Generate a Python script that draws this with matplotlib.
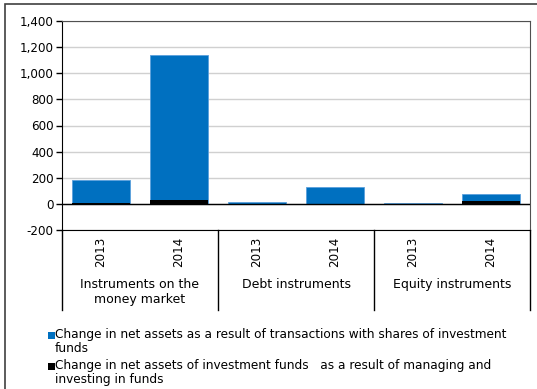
import matplotlib.pyplot as plt
from matplotlib.patches import Rectangle
import numpy as np

# Data
groups = ["Instruments on the\nmoney market", "Debt instruments", "Equity instruments"]
years = ["2013", "2014"]
transactions = [185, 1141, 15, 133, 5, 75]
managing = [10, 28, 2, 2, 1, 22]
series_labels = [
    "Change in net assets as a result of transactions with shares of investment\nfunds",
    "Change in net assets of investment funds   as a result of managing and\ninvesting in funds",
]
colors = ["#0070C0", "#000000"]

W, H = 537, 389
fig = plt.figure(figsize=(W / 100, H / 100), dpi=100)
fs = 8.6

# outer frame
fig.patches.append(Rectangle((5 / W, -0.1), 1.2, (389 - 4) / H + 0.1, transform=fig.transFigure,
                             fill=False, edgecolor="#404040", linewidth=1.2))

ax = fig.add_axes([62 / W, (H - 230) / H, (530 - 62) / W, (230 - 21) / H])
x = np.arange(len(transactions))
ax.bar(x, transactions, width=0.74, color=colors[0], edgecolor="#5aa0dc", linewidth=0.6, zorder=2)
ax.bar(x, managing, width=0.74, color=colors[1], zorder=3)

ax.set_xlim(-0.5, len(transactions) - 0.5)
ax.set_ylim(-200, 1400)
ax.set_yticks(np.arange(-200, 1401, 200))
ax.set_yticklabels([f"{v:,}" for v in range(-200, 1401, 200)], fontsize=fs)
ax.yaxis.grid(True, color="#d0d0d0", linewidth=1)
ax.set_axisbelow(True)
ax.axhline(0, color="black", linewidth=1, zorder=4)
ax.tick_params(axis="y", length=4, width=1, pad=2)
ax.set_xticks([])
for side in ["top", "right"]:
    ax.spines[side].set_color("#505050")
ax.spines["left"].set_color("black")
ax.spines["bottom"].set_color("black")

# category axis below the plot
trans = ax.get_xaxis_transform()
depth = (310 - 230) / (230 - 21)
for b in [-0.5, 1.5, 3.5, 5.5]:
    ax.plot([b, b], [0, -depth], color="black", linewidth=1, transform=trans, clip_on=False)
for i, xi in enumerate(x):
    ax.text(xi, -(237 - 230) / 209, years[i % 2], rotation=90, ha="center", va="top",
            fontsize=fs, transform=trans)
for g, name in enumerate(groups):
    ax.text(2 * g + 0.5, -(278 - 230) / 209, name, ha="center", va="top",
            fontsize=fs + 0.4, transform=trans, linespacing=1.15)

# legend
for k, (lab, c) in enumerate(zip(series_labels, colors)):
    y0 = (H - 336 - 31 * k) / H
    fig.patches.append(Rectangle((48 / W, y0 - 3 / H), 7 / W, 7 / H, transform=fig.transFigure,
                                 facecolor=c, edgecolor="none"))
    fig.text(55 / W, y0 + 8 / H, lab, ha="left", va="top", fontsize=8.7, linespacing=1.12)

fig.savefig("out.png", dpi=100)
